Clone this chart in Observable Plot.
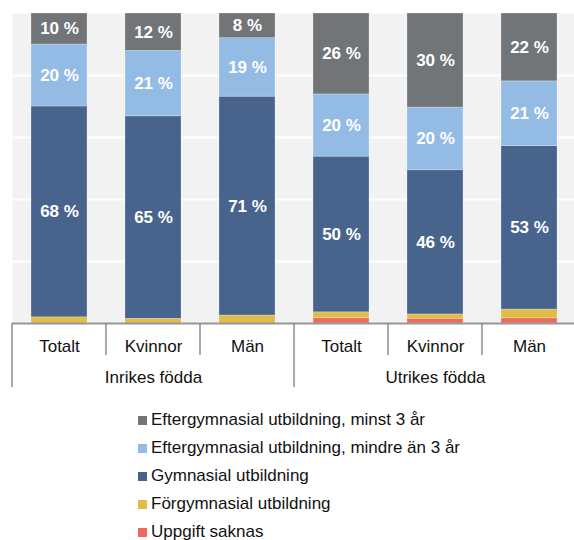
<!DOCTYPE html>
<html>
<head>
<meta charset="utf-8">
<script src="https://cdn.jsdelivr.net/npm/d3@7"></script>
<script src="https://cdn.jsdelivr.net/npm/@observablehq/plot@0.6"></script>
<style>
  html, body { margin: 0; padding: 0; background: white; overflow: hidden; }
  body { font-family: "Liberation Sans", Arial, sans-serif; color: #111; }
  #legend { margin-top: 11px; padding-left: 138px; }
  .item { display: flex; align-items: center; height: 28px; font-size: 17px; }
  .sw { width: 9px; height: 9px; margin-right: 4px; flex: none; }
</style>
</head>
<body>
<div id="chart"></div>
<div id="legend"></div>
<script>
// Categories
const groups = ["Inrikes födda", "Inrikes födda", "Inrikes födda", "Utrikes födda", "Utrikes födda", "Utrikes födda"];
const subs = ["Totalt", "Kvinnor", "Män", "Totalt", "Kvinnor", "Män"];
const groupNames = ["Inrikes födda", "Utrikes födda"];

// Series, bottom to top
const series = [
  "Uppgift saknas",
  "Förgymnasial utbildning",
  "Gymnasial utbildning",
  "Eftergymnasial utbildning, mindre än 3 år",
  "Eftergymnasial utbildning, minst 3 år"
];
const colors = ["#ef6a5b", "#dfbd47", "#48648c", "#94bbe3", "#727578"];

// Values (percent)
const uppgiftSaknas = [0, 0, 0, 1.7, 1.5, 1.7];
const forgymnasial  = [2.0, 1.5, 2.6, 1.9, 1.4, 2.8];
const gymnasial     = [68, 65, 71, 50, 46, 53];
const eftKort       = [20, 21, 19, 20, 20, 21];
const eftLang       = [10, 12, 8, 26, 30, 22];
const seriesValues = [uppgiftSaknas, forgymnasial, gymnasial, eftKort, eftLang];

const gridTicks = [0.2, 0.4, 0.6, 0.8];

const keys = subs.map((s, i) => groups[i] + "|" + s);
const table = [];
series.forEach((name, si) => {
  keys.forEach((k, i) => {
    table.push({key: k, series: name, value: seriesValues[si][i]});
  });
});

const groupLabelData = groupNames.map(g => ({name: g, key: keys[groups.indexOf(g) + 1]}));

function separators(index, scales, values, dims) {
  const x = scales.x;
  const step = x.step(), bw = x.bandwidth();
  const y0 = dims.height - dims.marginBottom;
  const g = d3.create("svg:g").attr("stroke", "#8e8e8e").attr("stroke-width", 1.5);
  keys.forEach((k, i) => {
    const bx = x(k) + bw / 2 - step / 2;
    const long = i === 0 || groups[i] !== groups[i - 1];
    g.append("line").attr("x1", bx).attr("x2", bx)
      .attr("y1", y0).attr("y2", y0 + (long ? 64 : 32));
  });
  const last = keys[keys.length - 1];
  const ex = x(last) + bw / 2 + step / 2;
  g.append("line").attr("x1", ex).attr("x2", ex).attr("y1", y0).attr("y2", y0 + 64);
  return g.node();
}

const stackOpts = {x: "key", y: "value", z: "series", offset: "normalize"};

const chart = Plot.plot({
  width: 576,
  height: 395,
  marginLeft: 12,
  marginRight: 0,
  marginTop: 13,
  marginBottom: 72,
  style: {fontFamily: "Liberation Sans, Arial, sans-serif", fontSize: "17px", color: "#111", background: "white", maxWidth: "none"},
  x: {domain: keys, paddingInner: 0.4, paddingOuter: 0.2, label: null},
  y: {domain: [0, 1], axis: null},
  color: {domain: series, range: colors},
  marks: [
    Plot.frame({fill: "#f2f2f2", stroke: null}),
    Plot.gridY(gridTicks, {stroke: "white", strokeOpacity: 1, strokeWidth: 2}),
    Plot.barY(table, Plot.stackY({...stackOpts, fill: "series", stroke: "white", strokeOpacity: 0.3, strokeWidth: 0.8})),
    Plot.text(table, Plot.stackY({...stackOpts,
      text: d => d.value >= 5 ? `${d.value} %` : "",
      fill: "white", fontWeight: "bold", fontSize: 17})),
    Plot.ruleY([0], {stroke: "#969696", strokeWidth: 2}),
    Plot.axisX({tickSize: 0, tickPadding: 16, tickFormat: k => k.split("|")[1], fontSize: 17, fill: "#111"}),
    Plot.text(groupLabelData, {x: "key", text: "name", frameAnchor: "bottom", lineAnchor: "top", dy: 47, fontSize: 17, fill: "#111"}),
    separators
  ]
});
document.getElementById("chart").appendChild(chart);

// Legend (top to bottom = top segment first)
const legend = d3.select("#legend");
series.slice().reverse().forEach((name) => {
  const it = legend.append("div").attr("class", "item");
  it.append("div").attr("class", "sw").style("background", colors[series.indexOf(name)]);
  it.append("span").text(name);
});
</script>
</body>
</html>
